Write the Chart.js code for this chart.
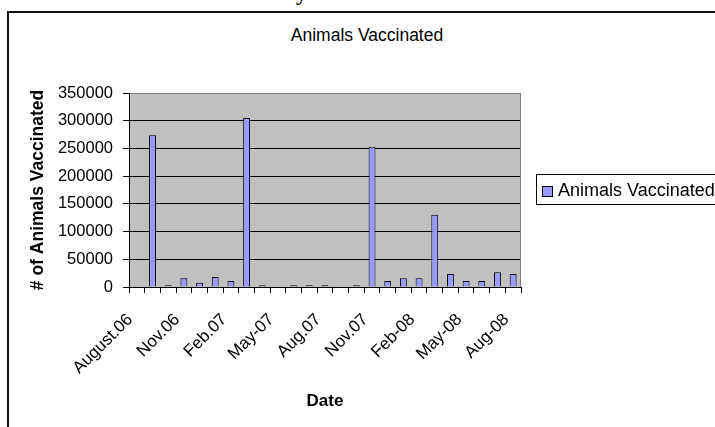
<!DOCTYPE html>
<html>
<head>
<meta charset="utf-8">
<title>Animals Vaccinated</title>
<script src="https://cdn.jsdelivr.net/npm/chart.js@4.4.1/dist/chart.umd.min.js"></script>
<style>
    body { margin: 0; background: #fff; }
    #wrap { position: relative; width: 715px; height: 427px; overflow: hidden; font-family: 'Liberation Sans', Arial, sans-serif; color: #000; }
    #frame { position: absolute; left: 7px; top: 11px; width: 800px; height: 500px; border: 2px solid #111; }
    #cut { position: absolute; left: 296px; top: -18px; font: bold 22px 'Liberation Serif', serif; line-height: 22px; color: #000; }
    #title { position: absolute; left: 0; top: 25px; width: 734px; text-align: center; font-size: 17.5px; line-height: 20px; }
    #legend { position: absolute; left: 536px; top: 174px; width: 220px; height: 29px; border: 1px solid #000; font-size: 18px; }
    #legend .sw { position: absolute; left: 5px; top: 11px; width: 9px; height: 9px; background: #9999ff; border: 1px solid #000; }
    #legend .txt { position: absolute; left: 21px; top: 5px; line-height: 20px; white-space: nowrap; }
    canvas { position: absolute; left: 0; top: 0; }
</style>
</head>
<body>
<div id="wrap">
    <div id="frame"></div>
    <div id="cut">y</div>
    <div id="title">Animals Vaccinated</div>
    <canvas id="vaccineChart" width="715" height="427"></canvas>
    <div id="legend"><span class="sw"></span><span class="txt">Animals Vaccinated</span></div>
</div>
<script>
// months on the x axis, only every third one gets a label
const months = [
    'August.06', 'Sep.06', 'Oct.06', 'Nov.06', 'Dec.06', 'Jan.07',
    'Feb.07', 'Mar.07', 'Apr.07', 'May-07', 'Jun-07', 'Jul-07',
    'Aug.07', 'Sep.07', 'Oct.07', 'Nov.07', 'Dec.07', 'Jan-08',
    'Feb-08', 'Mar-08', 'Apr-08', 'May-08', 'Jun-08', 'Jul-08', 'Aug-08'
];

// animals vaccinated per month (null = no bar)
const vaccinated = [
    null, 273700, 3000, 15600, 7800, 18000,
    10800, 304900, 3000, null, 3000, 3000,
    3000, null, 3000, 253200, 10800, 15600,
    15600, 130500, 23400, 10800, 10800, 26400, 23400
];

const yMin = 0;
const yMax = 350000;
const yStep = 50000;
const labelEvery = 3;

Chart.defaults.font.family = "'Liberation Sans', Arial, sans-serif";
Chart.defaults.color = '#000';

// grey plot area with a grey frame, like the old Excel charts
const plotBackground = {
    id: 'plotBackground',
    beforeDraw(chart) {
        const { ctx, chartArea: a } = chart;
        ctx.save();
        ctx.fillStyle = '#c0c0c0';
        ctx.fillRect(a.left, a.top, a.width, a.height);
        ctx.restore();
    },
    beforeDatasetsDraw(chart) {
        const { ctx, chartArea: a } = chart;
        ctx.save();
        ctx.strokeStyle = '#808080';
        ctx.lineWidth = 1;
        ctx.beginPath();
        ctx.moveTo(a.right - 0.5, a.top);
        ctx.lineTo(a.right - 0.5, a.bottom);
        ctx.stroke();
        ctx.restore();
    }
};

const ctx = document.getElementById('vaccineChart');

new Chart(ctx, {
    type: 'bar',
    data: {
        labels: months,
        datasets: [{
            label: 'Animals Vaccinated',
            data: vaccinated,
            backgroundColor: '#9999ff',
            borderColor: '#000',
            borderWidth: 1,
            categoryPercentage: 1,
            barPercentage: 0.44
        }]
    },
    plugins: [plotBackground],
    options: {
        responsive: false,
        animation: false,
        layout: { padding: { top: 93, right: 194, left: 0, bottom: 0 } },
        plugins: {
            legend: { display: false },
            title: { display: false },
            tooltip: { enabled: false }
        },
        scales: {
            x: {
                afterFit: (scale) => { scale.height = 140; },
                grid: {
                    offset: true,
                    drawOnChartArea: false,
                    tickLength: 6,
                    tickColor: '#000'
                },
                border: { color: '#000' },
                ticks: {
                    autoSkip: false,
                    minRotation: 45,
                    maxRotation: 45,
                    padding: 10,
                    font: { size: 17 },
                    // two trailing spaces push the rotated text down-left like Excel does
                    callback: (value, index) => index % labelEvery === 0 ? months[index] + '  ' : ''
                },
                title: {
                    display: true,
                    text: 'Date',
                    font: { size: 17, weight: 'bold' },
                    padding: { top: 0, bottom: 15 }
                }
            },
            y: {
                min: yMin,
                max: yMax,
                afterFit: (scale) => { scale.width = 129; },
                grid: {
                    color: (c) => c.tick && c.tick.value === yMax ? '#808080' : '#000',
                    tickColor: '#000',
                    tickLength: 6
                },
                border: { color: '#000' },
                ticks: {
                    stepSize: yStep,
                    padding: 10,
                    font: { size: 16.5 },
                    callback: (value) => String(value)
                },
                title: {
                    display: true,
                    text: '# of Animals Vaccinated',
                    font: { size: 17.5, weight: 'bold' },
                    padding: { top: 28, bottom: 0 }
                }
            }
        }
    }
});
</script>
</body>
</html>
